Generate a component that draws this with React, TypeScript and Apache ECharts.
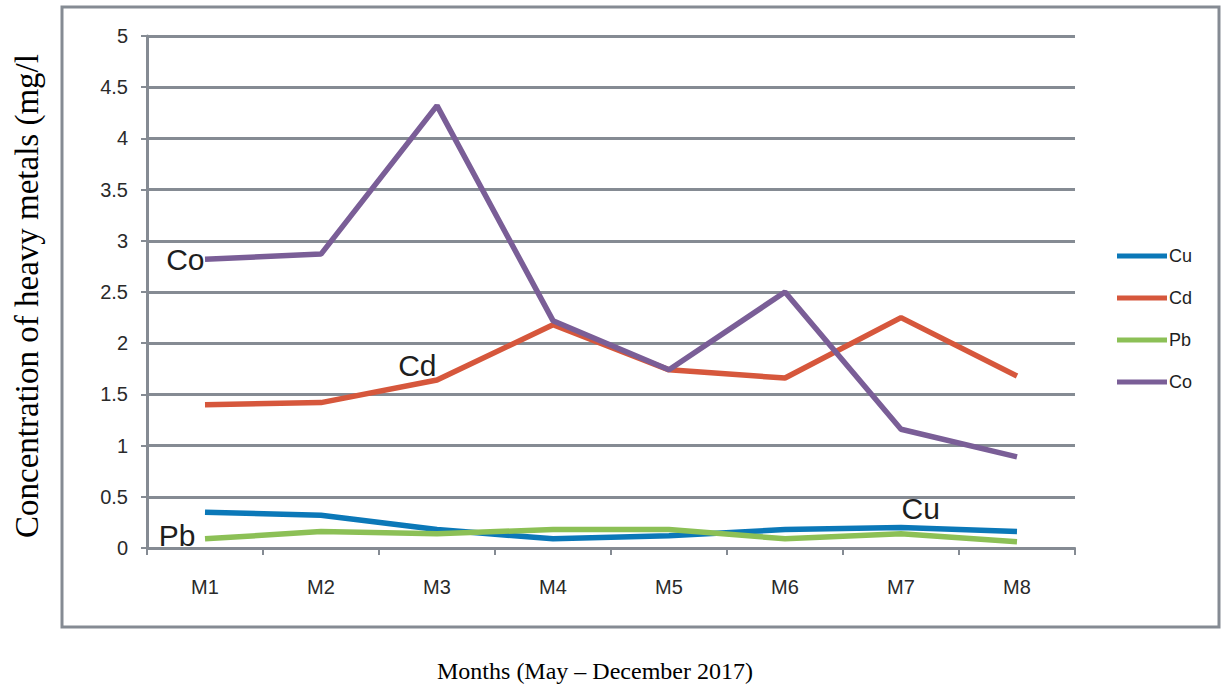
import React, { useEffect, useRef } from "react";
import * as echarts from "echarts";

const categories = ["M1", "M2", "M3", "M4", "M5", "M6", "M7", "M8"];
const cu = [0.35, 0.32, 0.18, 0.09, 0.12, 0.18, 0.2, 0.16];
const cd = [1.4, 1.42, 1.64, 2.18, 1.74, 1.66, 2.25, 1.68];
const pb = [0.09, 0.16, 0.14, 0.18, 0.18, 0.09, 0.14, 0.06];
const co = [2.82, 2.87, 4.32, 2.22, 1.74, 2.5, 1.16, 0.89];
const seriesNames = ["Cu", "Cd", "Pb", "Co"];
const colors = ["#0b78b8", "#d6573c", "#8cc056", "#7a5e97"];
const yTitle = "Concentration of heavy metals (mg/l";
const xTitle = "Months (May \u2013 December 2017)";

const GRID = "#858b93";
const SANS = "'Liberation Sans', Arial, sans-serif";
const SERIF = "'Liberation Serif', 'Times New Roman', serif";

function annot(text: string, cat: string, val: number, position: string, offset: number[], distance: number) {
  return {
    symbol: "circle",
    symbolSize: 1,
    itemStyle: { color: "rgba(0,0,0,0)" },
    data: [
      {
        coord: [cat, val],
        label: {
          show: true,
          formatter: text,
          position,
          offset,
          distance,
          fontSize: 30,
          fontFamily: SANS,
          color: "#1e1e1e",
        },
      },
    ],
  };
}

export default function App() {
  const ref = useRef<HTMLDivElement>(null);
  useEffect(() => {
    document.body.style.margin = "0";
    const chart = echarts.init(ref.current!, null, { renderer: "svg" });
    const data = [cu, cd, pb, co];
    const marks = [
      annot("Cu", "M7", cu[6], "right", [0, -19], 0),
      annot("Cd", "M3", cd[2], "left", [0, -15], 0),
      annot("Pb", "M1", pb[0], "left", [0, -3], 9),
      annot("Co", "M1", co[0], "left", [0, 0], 0),
    ];
    chart.setOption({
      animation: false,
      backgroundColor: "#ffffff",
      grid: { left: 147, right: 152, top: 36, bottom: 139 },
      legend: {
        orient: "vertical",
        left: 1112,
        top: 242,
        itemWidth: 50,
        itemHeight: 5,
        itemGap: 24,
        icon: "rect",
        textStyle: { fontSize: 18, fontFamily: SANS, color: "#1e1e1e", padding: [0, 0, 0, -3] },
        data: seriesNames,
      },
      xAxis: {
        type: "category",
        data: categories,
        boundaryGap: true,
        axisLine: { show: true, lineStyle: { color: GRID, width: 2 } },
        axisTick: { show: true, length: 7, lineStyle: { color: GRID, width: 2 } },
        axisLabel: { fontSize: 20, fontFamily: SANS, color: "#2a2a2a", margin: 29 },
        splitLine: { show: false },
      },
      yAxis: {
        type: "value",
        min: 0,
        max: 5,
        interval: 0.5,
        axisLine: { show: true, lineStyle: { color: GRID, width: 3 } },
        axisTick: { show: true, length: 6, lineStyle: { color: GRID, width: 2 } },
        axisLabel: { fontSize: 20, fontFamily: SANS, color: "#2a2a2a", margin: 19 },
        splitLine: { show: true, lineStyle: { color: GRID, width: 3 } },
      },
      graphic: [
        {
          type: "rect",
          shape: { x: 62, y: 7, width: 1157, height: 620 },
          style: { fill: "none", stroke: GRID, lineWidth: 3 },
          silent: true,
        },
        {
          type: "text",
          x: 27,
          y: 296,
          rotation: Math.PI / 2,
          style: {
            text: yTitle,
            fontSize: 33,
            fontFamily: SERIF,
            fill: "#000",
            textAlign: "center",
            textVerticalAlign: "middle",
          },
        },
        {
          type: "text",
          x: 595,
          y: 671,
          style: {
            text: xTitle,
            fontSize: 24,
            fontFamily: SERIF,
            fill: "#000",
            textAlign: "center",
            textVerticalAlign: "middle",
          },
        },
      ],
      series: seriesNames.map((name, i) => ({
        name,
        type: "line",
        data: data[i],
        showSymbol: false,
        symbol: "none",
        color: colors[i],
        lineStyle: { width: 5.5, color: colors[i] },
        z: i === 3 ? 4 : 3,
        markPoint: marks[i],
      })),
    });
    return () => chart.dispose();
  }, []);
  return <div ref={ref} style={{ width: 1227, height: 687 }} />;
}
